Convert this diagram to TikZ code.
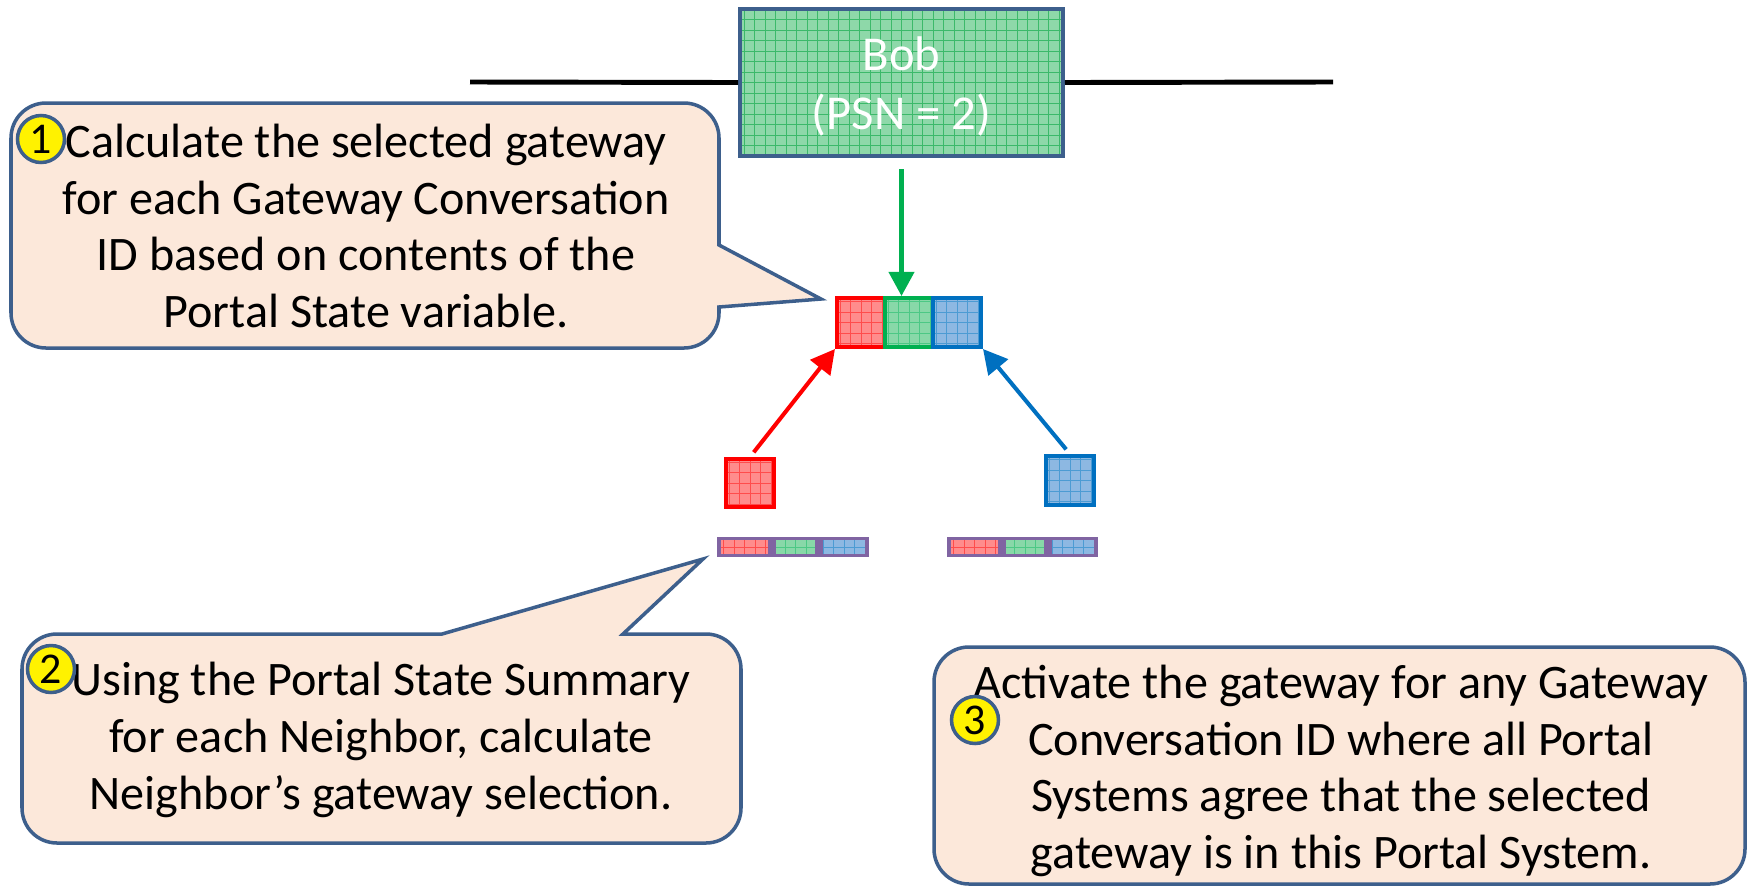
\documentclass[tikz,border=0pt]{standalone}
\usepackage{fontspec}
\setmainfont{Carlito}
\usepackage{xcolor}
\usepackage{tikz}
\usetikzlibrary{shapes,arrows,positioning,calc,arrows.meta}

\definecolor{edge}{HTML}{3D5F8C}
\definecolor{notefill}{HTML}{FCE8DA}
\definecolor{bobfill}{HTML}{8ED8A9}
\definecolor{bobgrid}{HTML}{3CB96A}
\definecolor{sqred}{HTML}{FF0000}
\definecolor{sqredl}{HTML}{FF8C8C}
\definecolor{sqgreen}{HTML}{00B050}
\definecolor{sqgreenl}{HTML}{88D8A8}
\definecolor{sqblue}{HTML}{0070C0}
\definecolor{sqbluel}{HTML}{8DB8E2}
\definecolor{sumpurple}{HTML}{8064A2}

\begin{document}
\begin{tikzpicture}[x=0.02cm, y=-0.02cm,
  sq/.style n args={3}{draw=#1, fill=#2, line width=2.3pt, inner sep=0pt,
    path picture={\draw[#3, line width=0.5pt, step=0.21cm]
      (path picture bounding box.south west) grid (path picture bounding box.north east);}},
  cell/.style={minimum width=0.96cm, minimum height=0.98cm},
  bar/.style={minimum height=0.34cm, line width=2.2pt},
  callout/.style={fill=notefill, draw=edge, line width=2pt},
  note/.style={align=center, font=\fontsize{27.4}{32.3}\selectfont},
  num/.style={circle, fill=yellow, draw=edge, line width=2pt, minimum size=0.94cm,
    inner sep=0pt, font=\fontsize{25}{25}\selectfont},
  arr/.style={line width=2.3pt, -{Triangle[length=0.48cm,width=0.5cm]}},
  bus/.style={line width=2.8pt}]
\useasboundingbox (0,0) rectangle (1749,887);

\node[sq={edge}{bobfill}{bobgrid}, minimum width=6.46cm, minimum height=2.94cm] (bob) at (901.5,82.5) {};
\node[align=center, text=white, font=\fontsize{27.7}{33.5}\selectfont] (bobl) at ($(bob.center)+(0,4)$) {Bob\\(PSN = 2)};
\coordinate (busl) at (470,82);
\coordinate (busr) at (1333,82);
\draw[bus] (busl) -- (bob.west);
\draw[bus] (bob.east) -- (busr);

\node[sq={sqred}{sqredl}{sqred!70}, cell] (gsr) at (861,322.5) {};
\node[sq={sqgreen}{sqgreenl}{sqgreen!70}, cell] (gsg) at (909,322.5) {};
\node[sq={sqblue}{sqbluel}{sqblue!70}, cell] (gsb) at (957,322.5) {};

\node[sq={sqred}{sqredl}{sqred!70}, minimum width=0.96cm, minimum height=0.96cm] (nbr) at (750,483) {};
\node[sq={sqblue}{sqbluel}{sqblue!70}, minimum width=0.96cm, minimum height=0.98cm] (nbb) at (1070,480.5) {};

\node[sq={sumpurple}{sqredl}{sqred!70}, bar, minimum width=1.02cm] (lsr) at (744.5,547) {};
\node[sq={sumpurple}{sqgreenl}{sqgreen!70}, bar, minimum width=0.86cm] (lsg) at (795.5,547) {};
\node[sq={sumpurple}{sqbluel}{sqblue!70}, bar, minimum width=0.92cm] (lsb) at (844,547) {};
\node[sq={sumpurple}{sqredl}{sqred!70}, bar, minimum width=1.02cm] (rsr) at (974.5,547) {};
\node[sq={sumpurple}{sqgreenl}{sqgreen!70}, bar, minimum width=0.84cm] (rsg) at (1025,547) {};
\node[sq={sumpurple}{sqbluel}{sqblue!70}, bar, minimum width=0.92cm] (rsb) at (1073,547) {};

\draw[arr, sqgreen, shorten <=0.22cm] (bob.south) -- (bob.south |- gsg.north);
\draw[arr, sqred, shorten <=0.12cm] (nbr.north) -- (gsr.south west);
\draw[arr, sqblue, shorten <=0.12cm] (nbb.north) -- (gsb.south east);

\draw[callout] (46,103) -- (684,103) arc[start angle=270,end angle=360,radius=35] -- (719,245) -- (821,299) -- (719,307) -- (719,313) arc[start angle=0,end angle=90,radius=35] -- (46,348) arc[start angle=90,end angle=180,radius=35] -- (11,138) arc[start angle=180,end angle=270,radius=35] -- cycle;
\node[note] (t1) at (366,226) {Calculate the selected gateway\\for each Gateway Conversation\\ID based on contents of the\\Portal State variable.};
\node[num] (n1) at (41,139) {1};

\draw[callout] (57,634) -- (442,634) -- (703,559) -- (623,634) -- (706,634) arc[start angle=270,end angle=360,radius=35] -- (741,808) arc[start angle=0,end angle=90,radius=35] -- (57,843) arc[start angle=90,end angle=180,radius=35] -- (22,669) arc[start angle=180,end angle=270,radius=35] -- cycle;
\node[note] (t2) at (381,740) {Using the Portal State Summary\\for each Neighbor, calculate\\Neighbor’s gateway selection.};
\node[num] (n2) at (51,669) {2};

\draw[callout, rounded corners=0.7cm] (934,647) rectangle (1745,884);
\node[note] (t3) at (1341,771) {Activate the gateway for any Gateway\\Conversation ID where all Portal\\Systems agree that the selected\\gateway is in this Portal System.};
\node[num] (n3) at (975,720) {3};
\end{tikzpicture}
\end{document}
